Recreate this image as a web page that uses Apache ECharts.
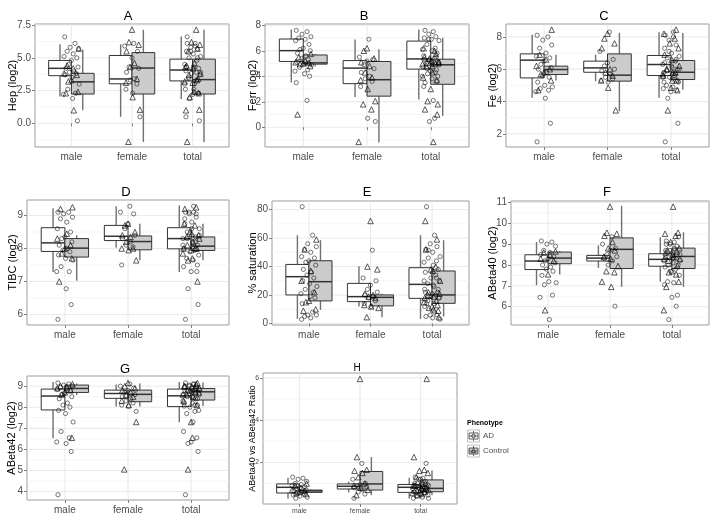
<!DOCTYPE html>
<html><head><meta charset="utf-8">
<script src="https://cdn.jsdelivr.net/npm/echarts@6/dist/echarts.min.js"></script>
<style>html,body{margin:0;padding:0;background:#fff}#c{width:719px;height:529px}</style>
</head><body><div id="c"></div>
<script>
const CATEGORIES = ['male', 'female', 'total'];
const GROUPS = ['AD', 'Control'];

// ---- A: Hep (log2) ----
const A_ticks = [0, 2.5, 5, 7.5];
const A_boxAD = [[2.06,3.64,4.20,4.80,6.03],[0.5,3.02,3.39,5.18,6.03],[1.86,3.24,4.07,4.90,6.63]];
const A_boxCtl = [[1.0,2.24,3.17,3.82,5.63],[-1.41,2.24,4.22,5.40,7.14],[-1.41,2.24,3.34,4.90,7.14]];
const A_maleAD = [6.6,6.1,5.8,5.7,5.5,5.3,5.1,5.0,4.8,4.5,4.3,4.2,4.0,3.9,3.8,3.7,3.5,3.0,2.6,2.3,2.2,1.9,0.2];
const A_maleCtl = [5.7,4.4,4.2,3.8,3.7,3.3,3.2,2.4,2.3,1.0];
const A_femaleAD = [6.1,5.9,5.5,5.0,4.3,4.2,3.9,3.4,3.3,3.0,2.6,2.3,0.5];
const A_femaleCtl = [7.15,6.2,6.0,5.5,4.6,4.3,3.4,3.1,2.0,1.05,-1.4];

// ---- B: Ferr (log2) ----
const B_ticks = [0, 2, 4, 6, 8];
const B_boxAD = [[3.52,5.16,6.01,6.92,7.67],[2.38,3.42,4.64,5.23,6.89],[2.18,4.56,5.36,6.76,7.67]];
const B_boxCtl = [[4.77,4.95,5.05,5.67,5.75],[-1.19,2.44,3.73,5.16,6.11],[0.88,3.37,4.9,5.34,7.02]];
const B_maleAD = [7.6,7.5,7.3,7.1,7.0,6.9,6.8,6.5,6.2,6.1,6.0,5.8,5.6,5.4,5.3,5.1,5.0,4.9,4.7,4.5,4.4,4.2,4.0,3.5,2.1];
const B_maleCtl = [5.75,5.5,5.2,5.1,5.05,5.0,4.95,4.8,1.0];
const B_femaleAD = [6.9,5.5,5.3,5.2,4.9,4.6,4.3,4.0,3.8,3.6,3.2,0.7,0.45];
const B_femaleCtl = [6.2,6.0,5.4,5.1,4.8,4.3,3.9,3.7,3.0,2.05,1.8,1.4,-1.15];

// ---- C: Fe (log2) ----
const C_ticks = [2, 4, 6, 8];
const C_boxAD = [[4.23,5.46,6.56,6.95,8.14],[5.26,5.81,6.08,6.5,6.9],[4.23,5.61,6.29,6.85,8.29]];
const C_boxCtl = [[5.3,5.67,5.98,6.19,6.9],[3.40,5.26,5.63,6.95,8.25],[4.74,5.36,5.81,6.54,8.25]];
const C_maleAD = [8.1,8.0,7.8,7.5,7.3,7.0,6.8,6.7,6.5,6.3,6.1,6.0,5.8,5.6,5.5,5.2,5.0,4.9,4.8,4.7,4.6,4.2,2.65,1.5];
const C_maleCtl = [8.45,6.9,6.6,6.2,6.0,5.8,5.7,5.3,4.7];
const C_femaleAD = [8.3,7.1,6.6,6.4,6.2,6.0,5.9,5.7,5.5,5.4,5.3,5.2];
const C_femaleCtl = [8.2,7.9,7.6,7.3,6.0,5.8,5.6,5.3,4.85,3.45];

// ---- D: TIBC (log2) ----
const D_ticks = [6, 7, 8, 9];
const D_boxAD = [[7.29,7.91,8.17,8.63,9.22],[8.02,8.24,8.37,8.70,9.28],[7.29,7.99,8.30,8.63,9.3]];
const D_boxCtl = [[7.02,7.74,8.01,8.30,8.4],[7.64,7.96,8.21,8.38,8.75],[7.64,7.94,8.07,8.35,8.75]];
const D_maleAD = [9.1,9.1,9.05,8.95,8.9,8.8,8.6,8.5,8.35,8.3,8.2,8.1,8.0,7.95,7.9,7.8,7.7,7.65,7.45,7.3,7.3,6.78,6.3,5.85];
const D_maleCtl = [9.25,9.2,8.45,8.3,8.1,8.0,7.85,7.7,7.0];
const D_femaleAD = [9.28,9.1,9.05,8.75,8.6,8.4,8.3,8.2,8.1,8.05,7.5];
const D_femaleCtl = [8.75,8.7,8.5,8.4,8.35,8.2,8.0,8.0,7.95,7.64];

// ---- E: % saturation ----
const E_ticks = [0, 20, 40, 60, 80];
const E_boxAD = [[3.3,20.1,32.9,41.5,62],[11.9,15.4,18.9,28.2,40.3],[3.3,17.7,27.5,39.2,62]];
const E_boxCtl = [[9.6,15.9,29.4,44.1,58.5],[4.4,12.4,18.4,20.1,21],[4.9,14.2,20.1,36.9,58.5]];
const E_maleAD = [82,62,56,54,52,50,47,46,44,43,41,38,36,34,32,30,28,26,24,22,21,19,18,14,8,6,6,5,4,3];
const E_maleCtl = [59,52,37,30,22,16,15,10,9];
const E_femaleAD = [51.5,32,30,27,24,22,20,19,18,16,14,12];
const E_femaleCtl = [72,40,38,21,20,19,18,13,12,11,4.5];

// ---- F: ABeta40 (log2) ----
const F_ticks = [6, 7, 8, 9, 10, 11];
const F_boxAD = [[7.03,7.78,8.19,8.49,9.10],[7.86,8.19,8.33,8.46,8.94],[7.19,7.94,8.27,8.54,9.33]];
const F_boxCtl = [[7.54,8.06,8.33,8.62,8.67],[6.95,7.83,8.75,9.30,10.84],[6.95,7.83,8.41,8.81,9.57]];
const F_maleAD = [9.15,9.1,9.0,8.9,8.7,8.6,8.5,8.4,8.3,8.2,8.1,8.0,7.9,7.8,7.7,7.5,7.2,7.15,7.05,6.55,6.45,5.38];
const F_maleCtl = [8.65,8.6,8.5,8.3,8.2,7.55,5.83];
const F_femaleAD = [9.35,9.0,8.8,8.7,8.5,8.4,8.3,8.2,8.0,6.02];
const F_femaleCtl = [10.8,9.55,9.5,9.4,9.1,8.8,8.7,8.4,8.3,7.95,7.7,7.65,7.2,6.95];

// ---- G: ABeta42 (log2) ----
const G_ticks = [4, 5, 6, 7, 8, 9];
const G_boxAD = [[6.53,7.87,8.53,8.86,9.2],[8.03,8.42,8.65,8.81,9.08],[7.29,8.03,8.54,8.86,9.2]];
const G_boxCtl = [[8.58,8.70,8.89,9.05,9.13],[8.03,8.26,8.61,8.81,9.13],[8.06,8.34,8.73,8.89,9.17]];
const G_maleAD = [9.15,9.1,9.05,9.0,8.95,8.9,8.85,8.8,8.7,8.6,8.5,8.4,8.2,8.1,8.0,7.85,7.7,7.3,6.85,6.55,6.35,6.28,5.9,3.85];
const G_maleCtl = [9.1,9.0,8.95,8.9,8.8,8.7,8.6,6.55];
const G_femaleAD = [9.1,9.0,8.9,8.8,8.7,8.6,8.5,8.4,8.3,8.2,8.1,8.05,7.8];
const G_femaleCtl = [9.15,9.0,8.9,8.8,8.7,8.6,8.5,8.3,8.1,7.3,5.05];

// ---- H: ABeta40 vs ABeta42 Ratio ----
const H_ticks = [2, 4, 6];
const H_boxAD = [[0.29,0.55,0.82,0.98,1.27],[0.58,0.74,0.87,0.98,1.09],[0.29,0.58,0.82,0.95,1.27]];
const H_boxCtl = [[0.55,0.58,0.65,0.69,0.72],[0.45,0.69,0.98,1.57,2.25],[0.45,0.61,0.77,1.17,1.62]];
const H_maleAD = [1.3,1.25,1.2,1.1,1.0,0.95,0.9,0.85,0.8,0.75,0.7,0.65,0.6,0.55,0.5,0.45,0.4,0.35,0.3];
const H_maleCtl = [1.0,0.9,0.8,0.7,0.65,0.6,0.55,0.5];
const H_femaleAD = [1.95,1.2,1.0,0.95,0.9,0.85,0.8,0.7,0.6,0.5,0.3];
const H_femaleCtl = [5.95,2.25,1.65,1.6,1.5,1.3,1.0,0.9,0.8,0.7,0.45];

// fixed jitter pattern (horizontal offsets in category units)
const JITTER = [-0.11,0.06,-0.02,0.12,-0.07,0.03,-0.12,0.09,0.0,-0.05,0.11,-0.09,0.04,-0.03,0.08,-0.1,0.01,0.13,-0.06,0.07,-0.13,0.02,0.1];

// ---- layout / styles ----
const FONT = 'Liberation Sans, Arial, Helvetica, sans-serif';
const PANELS = [
  {t:'A', name:'Hep (log2)', ticks:A_ticks, bAD:A_boxAD, bC:A_boxCtl, mA:A_maleAD, mC:A_maleCtl, fA:A_femaleAD, fC:A_femaleCtl,
   g:{left:35, top:24, width:194, height:123}, min:-1.8, max:7.58, dec:1, gap:17, tx:128, ty:16.7, small:false},
  {t:'B', name:'Ferr (log2)', ticks:B_ticks, bAD:B_boxAD, bC:B_boxCtl, mA:B_maleAD, mC:B_maleCtl, fA:B_femaleAD, fC:B_femaleCtl,
   g:{left:265, top:24, width:204, height:123}, min:-1.55, max:8.1, dec:0, gap:7, tx:364, ty:16.7, small:false},
  {t:'C', name:'Fe (log2)', ticks:C_ticks, bAD:C_boxAD, bC:C_boxCtl, mA:C_maleAD, mC:C_maleCtl, fA:C_femaleAD, fC:C_femaleCtl,
   g:{left:506, top:24, width:203, height:123}, min:1.18, max:8.8, dec:0, gap:8, tx:604, ty:16.7, small:false},
  {t:'D', name:'TIBC (log2)', ticks:D_ticks, bAD:D_boxAD, bC:D_boxCtl, mA:D_maleAD, mC:D_maleCtl, fA:D_femaleAD, fC:D_femaleCtl,
   g:{left:27, top:200, width:202, height:125}, min:5.68, max:9.47, dec:0, gap:9, tx:126, ty:192.7, small:false},
  {t:'E', name:'% saturation', ticks:E_ticks, bAD:E_boxAD, bC:E_boxCtl, mA:E_maleAD, mC:E_maleCtl, fA:E_femaleAD, fC:E_femaleCtl,
   g:{left:272, top:201, width:197, height:124}, min:-1, max:86, dec:0, gap:14, tx:367, ty:192.7, small:false},
  {t:'F', name:'ABeta40 (log2)', ticks:F_ticks, bAD:F_boxAD, bC:F_boxCtl, mA:F_maleAD, mC:F_maleCtl, fA:F_femaleAD, fC:F_femaleCtl,
   g:{left:511, top:201, width:198, height:124}, min:5.12, max:11.07, dec:0, gap:12.5, tx:607, ty:192.7, small:false},
  {t:'G', name:'ABeta42 (log2)', ticks:G_ticks, bAD:G_boxAD, bC:G_boxCtl, mA:G_maleAD, mC:G_maleCtl, fA:G_femaleAD, fC:G_femaleCtl,
   g:{left:27, top:376, width:202, height:124}, min:3.6, max:9.48, dec:0, gap:10, tx:125, ty:369.3, small:false},
  {t:'H', name:'ABeta40 vs ABeta42 Ratio', ticks:H_ticks, bAD:H_boxAD, bC:H_boxCtl, mA:H_maleAD, mC:H_maleCtl, fA:H_femaleAD, fC:H_femaleCtl,
   g:{left:263, top:373, width:194, height:131}, min:0.03, max:6.23, dec:0, gap:6, tx:357, ty:368.3, small:true}
];

const BOX_W = 0.375, DODGE = 0.1875;
const BOX_STROKE = '#333', WHISK = '#707070', CTL_FILL = '#cccccc';

function boxRender(offset, fill) {
  return function (params, api) {
    const c = api.value(0) + offset;
    const pLo = api.coord([c, api.value(1)]);
    const pQ1 = api.coord([c, api.value(2)]);
    const pMed = api.coord([c, api.value(3)]);
    const pQ3 = api.coord([c, api.value(4)]);
    const pHi = api.coord([c, api.value(5)]);
    const xl = api.coord([c - BOX_W / 2, api.value(3)])[0];
    const xr = api.coord([c + BOX_W / 2, api.value(3)])[0];
    return {type: 'group', children: [
      {type: 'line', shape: {x1: pLo[0], y1: pLo[1], x2: pQ1[0], y2: pQ1[1]}, style: {stroke: WHISK, lineWidth: 1.4}},
      {type: 'line', shape: {x1: pQ3[0], y1: pQ3[1], x2: pHi[0], y2: pHi[1]}, style: {stroke: WHISK, lineWidth: 1.4}},
      {type: 'rect', shape: {x: xl, y: pQ3[1], width: xr - xl, height: pQ1[1] - pQ3[1]}, style: {fill: fill, stroke: BOX_STROKE, lineWidth: 1}},
      {type: 'line', shape: {x1: xl, y1: pMed[1], x2: xr, y2: pMed[1]}, style: {stroke: BOX_STROKE, lineWidth: 1.5}}
    ]};
  };
}

function gridRender(params, api) {
  const cs = params.coordSys;
  const kind = api.value(0), v = api.value(1);
  if (kind === 2) {
    const x = api.coord([v, 0])[0];
    return {type: 'line', shape: {x1: x, y1: cs.y, x2: x, y2: cs.y + cs.height}, style: {stroke: '#e3e3e3', lineWidth: 0.8}};
  }
  const y = api.coord([1, v])[1];
  return {type: 'line', shape: {x1: cs.x, y1: y, x2: cs.x + cs.width, y2: y},
    style: {stroke: kind === 0 ? '#e3e3e3' : '#f3f3f3', lineWidth: 0.8}};
}

function pts(cat, vals, shift) {
  return vals.map((v, i) => [cat + JITTER[(i + shift) % JITTER.length], v]);
}

const grids = [], xAxes = [], yAxes = [], series = [], graphics = [];
PANELS.forEach((p, i) => {
  const fs = p.small ? 6.8 : 10;
  grids.push(Object.assign({show: true, borderColor: '#9c9c9c', borderWidth: 1, backgroundColor: '#fff'}, p.g));
  xAxes.push({type: 'value', gridIndex: i, min: 0.4, max: 3.6,
    axisLine: {show: false}, splitLine: {show: false},
    axisTick: {customValues: [1, 2, 3], length: 3, lineStyle: {color: '#7f7f7f'}},
    axisLabel: {customValues: [1, 2, 3], formatter: v => CATEGORIES[Math.round(v) - 1], color: '#4d4d4d', fontSize: fs, fontFamily: FONT, margin: p.small ? 4 : 5}});
  yAxes.push({type: 'value', gridIndex: i, min: p.min, max: p.max,
    name: p.name, nameLocation: 'middle', nameGap: p.gap, nameMoveOverlap: false,
    nameTextStyle: {color: '#000', fontSize: p.small ? 9 : 11, fontFamily: FONT},
    axisLine: {show: false}, splitLine: {show: false},
    axisTick: {customValues: p.ticks, length: 3, lineStyle: {color: '#7f7f7f'}},
    axisLabel: {customValues: p.ticks, formatter: v => v.toFixed(p.dec), color: '#4d4d4d', fontSize: fs, fontFamily: FONT, margin: 4}});
  // gridlines
  const step = p.ticks[1] - p.ticks[0];
  const gl = [];
  p.ticks.forEach(t => gl.push([0, t]));
  for (let m = p.ticks[0] - step / 2; m < p.max; m += step) { if (m > p.min) gl.push([1, m]); }
  [1, 2, 3].forEach(c => gl.push([2, c]));
  series.push({type: 'custom', xAxisIndex: i, yAxisIndex: i, z: 0, silent: true, renderItem: gridRender, data: gl});
  // boxes
  series.push({type: 'custom', name: GROUPS[0], xAxisIndex: i, yAxisIndex: i, z: 2, silent: true,
    renderItem: boxRender(-DODGE, '#ffffff'), encode: {x: 0, y: [1, 2, 3, 4, 5]},
    data: p.bAD.map((b, k) => [k + 1].concat(b))});
  series.push({type: 'custom', name: GROUPS[1], xAxisIndex: i, yAxisIndex: i, z: 2, silent: true,
    renderItem: boxRender(DODGE, CTL_FILL), encode: {x: 0, y: [1, 2, 3, 4, 5]},
    data: p.bC.map((b, k) => [k + 1].concat(b))});
  // points
  const adPts = pts(1, p.mA, 0).concat(pts(2, p.fA, 5), pts(3, p.mA.concat(p.fA), 11));
  const ctPts = pts(1, p.mC, 3).concat(pts(2, p.fC, 8), pts(3, p.mC.concat(p.fC), 14));
  series.push({type: 'scatter', name: GROUPS[0], xAxisIndex: i, yAxisIndex: i, z: 4, silent: true,
    symbol: 'circle', symbolSize: 4.2, itemStyle: {color: 'rgba(0,0,0,0)', borderColor: '#111', borderWidth: 0.7}, data: adPts});
  series.push({type: 'scatter', name: GROUPS[1], xAxisIndex: i, yAxisIndex: i, z: 4, silent: true,
    symbol: 'triangle', symbolSize: 5.5, itemStyle: {color: 'rgba(0,0,0,0)', borderColor: '#000', borderWidth: 0.8}, data: ctPts});
  graphics.push({type: 'text', x: p.tx, y: p.ty, style: {text: p.t, fontSize: p.small ? 10 : 13, fontFamily: FONT, fill: '#000', textAlign: 'center', textVerticalAlign: 'middle'}});
});

// legend (Phenotype)
function legendKey(y, fill, sym) {
  const x = 467.5;
  const ch = [
    {type: 'rect', shape: {x: x, y: y, width: 12, height: 12}, style: {fill: '#fff', stroke: '#b0b0b0', lineWidth: 0.8}},
    {type: 'line', shape: {x1: x + 6, y1: y + 1, x2: x + 6, y2: y + 3}, style: {stroke: WHISK, lineWidth: 1}},
    {type: 'line', shape: {x1: x + 6, y1: y + 9, x2: x + 6, y2: y + 11}, style: {stroke: WHISK, lineWidth: 1}},
    {type: 'rect', shape: {x: x + 1.5, y: y + 3, width: 9, height: 6}, style: {fill: fill, stroke: BOX_STROKE, lineWidth: 0.8}},
    {type: 'line', shape: {x1: x + 1.5, y1: y + 6, x2: x + 10.5, y2: y + 6}, style: {stroke: BOX_STROKE, lineWidth: 0.8}}
  ];
  if (sym === 'circle') ch.push({type: 'circle', shape: {cx: x + 6, cy: y + 6, r: 1.8}, style: {fill: 'none', stroke: '#000', lineWidth: 0.6}});
  else ch.push({type: 'polygon', shape: {points: [[x + 6, y + 3.7], [x + 8.2, y + 7.6], [x + 3.8, y + 7.6]]}, style: {fill: 'none', stroke: '#000', lineWidth: 0.6}});
  return ch;
}
graphics.push({type: 'text', x: 467, y: 423.5, style: {text: 'Phenotype', fontSize: 7, fontWeight: 'bold', fontFamily: FONT, fill: '#000', textVerticalAlign: 'middle'}});
legendKey(430, '#ffffff', 'circle').concat(legendKey(445, CTL_FILL, 'triangle')).forEach(e => graphics.push(e));
graphics.push({type: 'text', x: 483, y: 436, style: {text: GROUPS[0], fontSize: 8, fontFamily: FONT, fill: '#4d4d4d', textVerticalAlign: 'middle'}});
graphics.push({type: 'text', x: 483, y: 451, style: {text: GROUPS[1], fontSize: 8, fontFamily: FONT, fill: '#4d4d4d', textVerticalAlign: 'middle'}});

const chart = echarts.init(document.getElementById('c'), null, {renderer: 'canvas'});
chart.setOption({
  backgroundColor: '#fff',
  animation: false,
  grid: grids, xAxis: xAxes, yAxis: yAxes, series: series,
  graphic: graphics
});
</script>
</body></html>
